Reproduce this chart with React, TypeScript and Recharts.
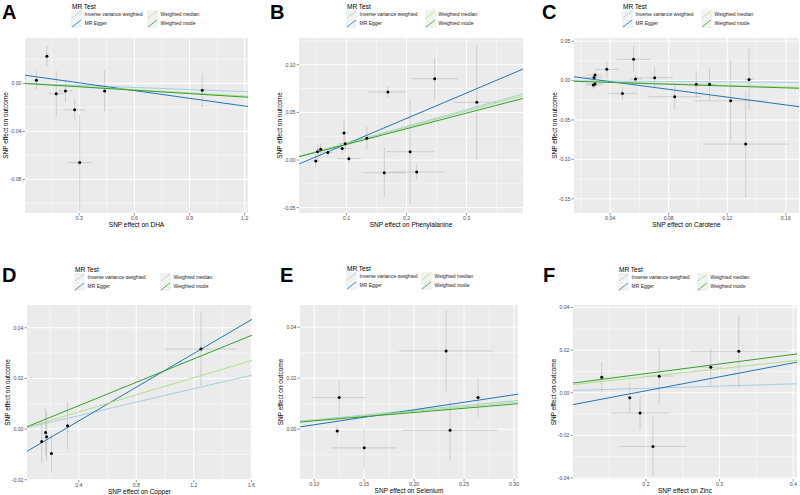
import React from 'react';
import {
  ComposedChart,
  Scatter,
  XAxis,
  YAxis,
  CartesianGrid,
  ErrorBar,
  ReferenceLine,
} from 'recharts';

const FONT = '"Liberation Sans", Arial, sans-serif';

// order: IVW, MR Egger, weighted median, weighted mode
const methods = ['Inverse variance weighted', 'MR Egger', 'Weighted median', 'Weighted mode'];
const methodColors = ['#A6CEE3', '#1F78B4', '#B2DF8A', '#33A02C'];

// A - DHA
const dhaX = [0.067, 0.124, 0.175, 0.225, 0.275, 0.302, 0.438, 0.969];
const dhaY = [0.0025, 0.0226, -0.0086, -0.0063, -0.022, -0.066, -0.0063, -0.0058];
const dhaSeX = [0.008, 0.008, 0.041, 0.036, 0.059, 0.064, 0.01, 0.008];
const dhaSeY = [0.0079, 0.0083, 0.019, 0.009, 0.009, 0.04, 0.017, 0.014];
const dhaIntercepts = [0, 0.0069, 0, 0];
const dhaSlopes = [-0.0057, -0.0215, -0.0088, -0.0095];

// B - Phenylalanine
const pheX = [0.049, 0.052, 0.057, 0.069, 0.093, 0.096, 0.098, 0.104, 0.134, 0.169, 0.163, 0.206, 0.217, 0.247, 0.317];
const pheY = [-0.001, 0.0087, 0.0112, 0.008, 0.0122, 0.0283, 0.0171, 0.0014, 0.0227, 0.0713, -0.0133, 0.0087, -0.0126, 0.0853, 0.0605];
const pheSeX = [0.008, 0.006, 0.008, 0.008, 0.015, 0.006, 0.012, 0.02, 0.01, 0.032, 0.035, 0.04, 0.046, 0.039, 0.04];
const pheSeY = [0.007, 0.008, 0.006, 0.005, 0.006, 0.013, 0.008, 0.005, 0.012, 0.006, 0.026, 0.055, 0.008, 0.022, 0.06];
const pheIntercepts = [0, -0.0098, 0, 0];
const pheSlopes = [0.176, 0.267, 0.171, 0.164];

// C - Carotene
const carX = [0.0285, 0.029, 0.0297, 0.0297, 0.0377, 0.0484, 0.056, 0.0573, 0.0704, 0.0841, 0.0988, 0.1079, 0.1223, 0.1326, 0.1349];
const carY = [-0.0057, 0.004, 0.007, -0.0044, 0.0142, -0.0163, 0.0269, 0.0019, 0.0036, -0.0205, -0.0048, -0.0048, -0.0256, -0.0806, 0.0015];
const carSeX = [0.005, 0.006, 0.005, 0.006, 0.008, 0.0097, 0.0114, 0.004, 0.0126, 0.018, 0.003, 0.004, 0.025, 0.029, 0.003];
const carSeY = [0.005, 0.005, 0.005, 0.005, 0.0106, 0.009, 0.017, 0.006, 0.0137, 0.017, 0.017, 0.021, 0.052, 0.068, 0.039];
const carIntercepts = [0, 0.0086, 0, 0];
const carSlopes = [-0.0136, -0.247, -0.051, -0.058];

// D - Copper
const cuX = [0.142, 0.169, 0.176, 0.21, 0.322, 1.25];
const cuY = [-0.0049, -0.0013, -0.003, -0.0096, 0.0013, 0.0316];
const cuSeX = [0.01, 0.01, 0.01, 0.01, 0.01, 0.25];
const cuSeY = [0.0085, 0.0095, 0.0095, 0.0076, 0.0092, 0.0145];
const cuIntercepts = [0, -0.0101, 0, 0];
const cuSlopes = [0.0133, 0.0333, 0.0169, 0.0231];

// E - Selenium
const seX = [0.125, 0.123, 0.15, 0.232, 0.236, 0.264];
const seY = [0.0124, -0.0007, -0.0073, 0.0307, -0.0004, 0.0124];
const seSeX = [0.027, 0.003, 0.032, 0.047, 0.047, 0.004];
const seSeY = [0.007, 0.002, 0.008, 0.016, 0.0117, 0.0077];
const seIntercepts = [0, -0.0041, 0, 0];
const seSlopes = [0.0372, 0.0587, 0.0351, 0.0329];

// F - Zinc
const znX = [0.14, 0.178, 0.192, 0.218, 0.2095, 0.288, 0.326];
const znY = [0.0073, -0.0023, -0.0095, 0.0078, -0.0252, 0.012, 0.0195];
const znSeX = [0.003, 0.003, 0.039, 0.02, 0.045, 0.015, 0.066];
const znSeY = [0.007, 0.007, 0.008, 0.013, 0.014, 0.0086, 0.017];
const znIntercepts = [0, -0.0122, 0, 0];
const znSlopes = [0.0104, 0.0656, 0.0375, 0.045];

type Panel = {
  letter: string;
  exposure: string;
  bx: number[];
  by: number[];
  sx: number[];
  sy: number[];
  intercepts: number[];
  slopes: number[];
  left: number;
  top: number;
  w: number;
  h: number;
  xDomain: [number, number];
  yDomain: [number, number];
  xTicks: number[];
  yTicks: number[];
  xMinor: number[];
  yMinor: number[];
  xDigits: number;
  yDigits: number;
  letterX: number;
  letterY: number;
  legX: number;
  legY: number;
  col2: number;
};

const panels: Panel[] = [
  {
    letter: 'A', exposure: 'DHA', bx: dhaX, by: dhaY, sx: dhaSeX, sy: dhaSeY,
    intercepts: dhaIntercepts, slopes: dhaSlopes,
    left: 25, top: 38, w: 223, h: 175,
    xDomain: [0.005, 1.218], yDomain: [-0.108, 0.0378],
    xTicks: [0.3, 0.6, 0.9, 1.2], yTicks: [-0.08, -0.04, 0],
    xMinor: [0.15, 0.45, 0.75, 1.05], yMinor: [-0.1, -0.06, -0.02, 0.02],
    xDigits: 1, yDigits: 2, letterX: 2, letterY: 18.5, legX: 71, legY: 6, col2: 76,
  },
  {
    letter: 'B', exposure: 'Phenylalanine', bx: pheX, by: pheY, sx: pheSeX, sy: pheSeY,
    intercepts: pheIntercepts, slopes: pheSlopes,
    left: 299, top: 38, w: 224, h: 175,
    xDomain: [0.021, 0.394], yDomain: [-0.0556, 0.128],
    xTicks: [0.1, 0.2, 0.3], yTicks: [-0.05, 0, 0.05, 0.1],
    xMinor: [0.05, 0.15, 0.25, 0.35], yMinor: [-0.025, 0.025, 0.075, 0.125],
    xDigits: 1, yDigits: 2, letterX: 270, letterY: 19, legX: 346, legY: 6, col2: 79,
  },
  {
    letter: 'C', exposure: 'Carotene', bx: carX, by: carY, sx: carSeX, sy: carSeY,
    intercepts: carIntercepts, slopes: carSlopes,
    left: 574, top: 38, w: 225, h: 175,
    xDomain: [0.0153, 0.169], yDomain: [-0.168, 0.054],
    xTicks: [0.04, 0.08, 0.12, 0.16], yTicks: [-0.15, -0.1, -0.05, 0, 0.05],
    xMinor: [0.02, 0.06, 0.1, 0.14], yMinor: [-0.125, -0.075, -0.025, 0.025],
    xDigits: 2, yDigits: 2, letterX: 542, letterY: 18.5, legX: 622, legY: 6, col2: 79,
  },
  {
    letter: 'D', exposure: 'Copper', bx: cuX, by: cuY, sx: cuSeX, sy: cuSeY,
    intercepts: cuIntercepts, slopes: cuSlopes,
    left: 27, top: 305, w: 225, h: 175,
    xDomain: [0.04, 1.605], yDomain: [-0.0201, 0.049],
    xTicks: [0.4, 0.8, 1.2, 1.6], yTicks: [-0.02, 0, 0.02, 0.04],
    xMinor: [0.2, 0.6, 1.0, 1.4], yMinor: [-0.01, 0.01, 0.03],
    xDigits: 1, yDigits: 2, letterX: 2, letterY: 282, legX: 74, legY: 269, col2: 86,
  },
  {
    letter: 'E', exposure: 'Selenium', bx: seX, by: seY, sx: seSeX, sy: seSeY,
    intercepts: seIntercepts, slopes: seSlopes,
    left: 300, top: 305, w: 218, h: 174,
    xDomain: [0.0857, 0.304], yDomain: [-0.0195, 0.0487],
    xTicks: [0.1, 0.15, 0.2, 0.25, 0.3], yTicks: [0, 0.02, 0.04],
    xMinor: [0.125, 0.175, 0.225, 0.275], yMinor: [-0.01, 0.01, 0.03],
    xDigits: 2, yDigits: 2, letterX: 280, letterY: 282, legX: 346, legY: 268, col2: 75,
  },
  {
    letter: 'F', exposure: 'Zinc', bx: znX, by: znY, sx: znSeX, sy: znSeY,
    intercepts: znIntercepts, slopes: znSlopes,
    left: 573, top: 305, w: 224, h: 174,
    xDomain: [0.101, 0.405], yDomain: [-0.0405, 0.0412],
    xTicks: [0.2, 0.3, 0.4], yTicks: [-0.04, -0.02, 0, 0.02, 0.04],
    xMinor: [0.15, 0.25, 0.35], yMinor: [-0.03, -0.01, 0.01, 0.03],
    xDigits: 1, yDigits: 2, letterX: 543, letterY: 282, legX: 618, legY: 269, col2: 79,
  },
];

const Dot = (p: any) => <circle cx={p.cx} cy={p.cy} r={1.5} fill="#000" />;

function ScatterPanel({ p }: { p: Panel }) {
  const data = p.bx.map((x, i) => ({ x, y: p.by[i], ex: p.sx[i], ey: p.sy[i] }));
  const [x0, x1] = p.xDomain;
  // a little room on the right so the last tick label is not cut
  const extra = 8;
  return (
    <div style={{ position: 'absolute', left: p.left - 25, top: p.top }}>
      <ComposedChart
        width={p.w + 25 + extra}
        height={p.h + 12}
        margin={{ top: 0, right: extra, bottom: 0, left: 0 }}
      >
        <CartesianGrid
          fill="#EBEBEB"
          fillOpacity={1}
          stroke="#FFFFFF"
          strokeWidth={0.5}
          verticalValues={p.xMinor}
          horizontalValues={p.yMinor}
        />
        <CartesianGrid
          fill="none"
          stroke="#FFFFFF"
          strokeWidth={1}
          verticalValues={p.xTicks}
          horizontalValues={p.yTicks}
        />
        <XAxis
          type="number"
          dataKey="x"
          domain={p.xDomain}
          ticks={p.xTicks}
          interval={0}
          allowDataOverflow
          height={12}
          axisLine={false}
          tickSize={2.5}
          tickMargin={1}
          tickLine={{ stroke: '#333', strokeWidth: 0.5 }}
          tick={{ fontSize: 5.2, fill: '#4D4D4D', fontFamily: FONT }}
          tickFormatter={(v: number) => v.toFixed(p.xDigits)}
        />
        <YAxis
          type="number"
          dataKey="y"
          domain={p.yDomain}
          ticks={p.yTicks}
          interval={0}
          allowDataOverflow
          width={25}
          axisLine={false}
          tickSize={2.5}
          tickMargin={1}
          tickLine={{ stroke: '#333', strokeWidth: 0.5 }}
          tick={{ fontSize: 5.2, fill: '#4D4D4D', fontFamily: FONT }}
          tickFormatter={(v: number) => v.toFixed(p.yDigits)}
        />
        <Scatter data={data} dataKey="y" shape={Dot} isAnimationActive={false}>
          <ErrorBar dataKey="ex" direction="x" width={0} stroke="#AFAFAF" strokeWidth={0.5} />
          <ErrorBar dataKey="ey" direction="y" width={0} stroke="#AFAFAF" strokeWidth={0.5} />
        </Scatter>
        {methods.map((m, i) => (
          <ReferenceLine
            key={m}
            segment={[
              { x: x0, y: p.intercepts[i] + p.slopes[i] * x0 },
              { x: x1, y: p.intercepts[i] + p.slopes[i] * x1 },
            ]}
            stroke={methodColors[i]}
            strokeWidth={1}
            ifOverflow="hidden"
          />
        ))}
      </ComposedChart>
    </div>
  );
}

function Labels({ p }: { p: Panel }) {
  const cx = p.left + p.w / 2;
  const cy = p.top + p.h / 2;
  const xTitleY = p.top + p.h + 13.5;
  return (
    <g fontFamily={FONT}>
      <text x={p.letterX} y={p.letterY} fontSize={20} fontWeight="bold" fill="#000">{p.letter}</text>
      <text x={p.legX + 1} y={p.legY + 2.5} fontSize={6.5} fill="#000">MR Test</text>
      {methods.map((m, i) => {
        const kx = p.legX + (i < 2 ? 0 : p.col2);
        const ky = p.legY + 4 + (i % 2) * 9;
        return (
          <g key={m}>
            <rect x={kx} y={ky} width={11} height={9} fill="#F2F2F2" />
            <line x1={kx + 1} y1={ky + 8} x2={kx + 10} y2={ky + 1} stroke={methodColors[i]} strokeWidth={0.8} />
            <text x={kx + 13.5} y={ky + 6.3} fontSize={5} fill="#222">{m}</text>
          </g>
        );
      })}
      <text x={cx} y={xTitleY} fontSize={6.5} textAnchor="middle" fill="#000">
        {`SNP effect on ${p.exposure}`}
      </text>
      <text
        x={p.left - 20}
        y={cy}
        fontSize={6.5}
        textAnchor="middle"
        dominantBaseline="central"
        fill="#000"
        transform={`rotate(-90 ${p.left - 20} ${cy})`}
      >
        SNP effect on outcome
      </text>
    </g>
  );
}

export default function App() {
  return (
    <div
      style={{
        position: 'absolute',
        left: 0,
        top: 0,
        width: 800,
        height: 495,
        background: '#fff',
        overflow: 'hidden',
      }}
    >
      <svg width={800} height={495} style={{ position: 'absolute', left: 0, top: 0 }}>
        {panels.map((p) => (
          <Labels key={p.letter} p={p} />
        ))}
      </svg>
      {panels.map((p) => (
        <ScatterPanel key={p.letter} p={p} />
      ))}
    </div>
  );
}
